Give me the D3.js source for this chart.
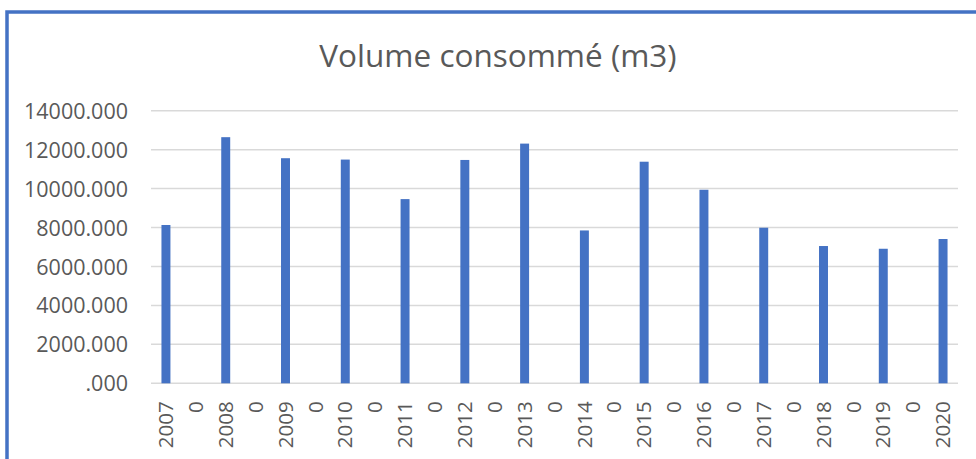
<!DOCTYPE html>
<html>
<head>
<meta charset="utf-8">
<script src="https://cdn.jsdelivr.net/npm/d3@7"></script>
<style>
  html, body { margin: 0; padding: 0; background: #fff; }
  svg { display: block; }
</style>
</head>
<body>
<svg id="chart" width="976" height="459"></svg>
<script>
const categories = ["2007","0","2008","0","2009","0","2010","0","2011","0","2012","0","2013","0","2014","0","2015","0","2016","0","2017","0","2018","0","2019","0","2020"];
const values = [8130,0,12640,0,11560,0,11490,0,9460,0,11470,0,12310,0,7850,0,11380,0,9940,0,7990,0,7050,0,6910,0,7410];
const yTicks = [0,2000,4000,6000,8000,10000,12000,14000];
const yTickLabels = [".000","2000.000","4000.000","6000.000","8000.000","10000.000","12000.000","14000.000"];
const title = "Volume consommé (m3)";

const svg = d3.select("#chart");
const plotLeft = 151, plotRight = 958, plotTop = 110.7, plotBottom = 383.3;
const font = "'Open Sans', 'Liberation Sans', sans-serif";
const textColor = "#595959";

// frame
svg.append("rect")
  .attr("x", 7).attr("y", 12).attr("width", 1100).attr("height", 600)
  .attr("fill", "none").attr("stroke", "#4472C4").attr("stroke-width", 3.5);

const x = d3.scaleBand()
  .domain(d3.range(categories.length))
  .range([plotLeft, plotRight])
  .paddingInner(0.7)
  .paddingOuter(0.35);

const y = d3.scaleLinear().domain([0, 14000]).range([plotBottom, plotTop]);

// gridlines
svg.append("g").selectAll("line").data(yTicks).join("line")
  .attr("x1", plotLeft).attr("x2", plotRight)
  .attr("y1", d => y(d)).attr("y2", d => y(d))
  .attr("stroke", "#d9d9d9").attr("stroke-width", 1.5);

// y axis labels
const yAxis = d3.axisLeft(y).tickValues(yTicks)
  .tickFormat((d, i) => yTickLabels[i]).tickSize(0).tickPadding(0);
const yg = svg.append("g").attr("transform", `translate(128,0)`).call(yAxis);
yg.select(".domain").remove();
yg.selectAll("text").attr("font-family", font).attr("font-size", 21.5).attr("fill", textColor).attr("dy", "0.35em");

// bars
svg.append("g").selectAll("rect").data(values).join("rect")
  .attr("x", (d, i) => x(i))
  .attr("width", x.bandwidth())
  .attr("y", d => y(d))
  .attr("height", d => y(0) - y(d))
  .attr("fill", "#4472C4");

// x axis
const xAxis = d3.axisBottom(x).tickFormat(i => categories[i]).tickSize(0).tickPadding(0);
const xg = svg.append("g").attr("transform", `translate(0,${plotBottom})`).call(xAxis);
xg.select(".domain").remove();
xg.selectAll("text")
  .attr("font-family", font).attr("font-size", 20.5).attr("fill", textColor)
  .attr("transform", "rotate(-90)")
  .attr("text-anchor", "end")
  .attr("x", -18).attr("y", 0).attr("dy", "0.35em");

// title
svg.append("text")
  .attr("x", 498).attr("y", 67)
  .attr("text-anchor", "middle")
  .attr("font-family", font).attr("font-size", 31.5).attr("fill", textColor)
  .text(title);
</script>
</body>
</html>
